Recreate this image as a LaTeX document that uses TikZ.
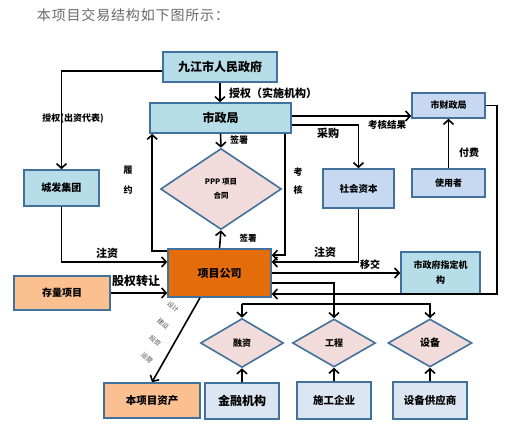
\documentclass[tikz,border=0pt]{standalone}
\usepackage{fontspec}
\setmainfont{Noto Sans CJK SC}
\usetikzlibrary{shapes.geometric,arrows.meta}
\definecolor{bluebg}{HTML}{B7DDE8}
\definecolor{bluebg2}{HTML}{C6D9F1}
\definecolor{bluebg3}{HTML}{DCE6F2}
\definecolor{orangebg}{HTML}{E46C0A}
\definecolor{peachbg}{HTML}{FAC090}
\definecolor{pinkbg}{HTML}{F2DCDB}
\definecolor{bord}{HTML}{41719C}
\definecolor{titlegray}{HTML}{6A6A6A}
\definecolor{smallgray}{HTML}{505050}
\newcommand{\fs}[1]{\fontsize{#1}{#1}\selectfont}
\tikzset{
  base/.style={draw=bord, line width=1.6pt, inner sep=0pt, align=center, font=\fs{10}\bfseries},
  boxA/.style={base, fill=bluebg},
  boxB/.style={base, fill=bluebg2},
  boxC/.style={base, fill=bluebg3},
  boxO/.style={base, fill=orangebg},
  boxP/.style={base, fill=peachbg},
  dia/.style={base, diamond, fill=pinkbg},
  arr/.style={draw=black, line width=1.6pt, -{Straight Barb[length=4.5pt,width=10pt,line width=1.6pt]}},
  lab/.style={inner sep=0pt, font=\fs{10}\bfseries},
  tiny/.style={inner sep=0pt, font=\fs{6.5}, text=smallgray, rotate=-42}
}
\begin{document}
\begin{tikzpicture}[x=1pt,y=-1pt]
\useasboundingbox (0,0) rectangle (512,427);
% title
\node[inner sep=0pt, text=titlegray, font=\fs{14}\addfontfeature{LetterSpace=6}] (title) at (133,15) {本项目交易结构如下图所示：};
% nodes
\node[boxA, minimum width=114, minimum height=30, font=\fs{12}\bfseries] (gov) at (220,67) {九江市人民政府};
\node[boxA, minimum width=141, minimum height=30, font=\fs{12}\bfseries] (szj) at (220.5,118) {市政局};
\node[boxA, minimum width=75, minimum height=36] (cf) at (61.5,188) {城发集团};
\node[dia, minimum width=121, minimum height=81, font=\fs{7.5}\bfseries, align=center] (ppp) at (221,189) {PPP 项目\\[6pt]合同};
\node[boxB, minimum width=71, minimum height=39, font=\fs{9.5}\bfseries] (sh) at (358.5,188.5) {社会资本};
\node[boxB, minimum width=73, minimum height=25, font=\fs{9}\bfseries] (cz) at (448.5,105.5) {市财政局};
\node[boxB, minimum width=73, minimum height=28, font=\fs{9}\bfseries] (syz) at (448.5,183) {使用者};
\node[boxO, minimum width=103, minimum height=48, font=\fs{11}\bfseries] (xm) at (219.5,273) {项目公司};
\node[boxP, minimum width=96, minimum height=34] (cl) at (62,293) {存量项目};
\node[boxA, minimum width=79, minimum height=42, font=\fs{9}\bfseries] (zd) at (440.5,273) {市政府指定机\\[6pt]构};
\node[boxP, minimum width=96, minimum height=35, font=\fs{10.5}\bfseries] (zc) at (152,400.5) {本项目资产};
\node[boxC, minimum width=74, minimum height=36, font=\fs{12}\bfseries] (jr) at (242,401) {金融机构};
\node[boxC, minimum width=74, minimum height=37, font=\fs{10.5}\bfseries] (sg) at (334,400.5) {施工企业};
\node[boxC, minimum width=74, minimum height=37, font=\fs{10.5}\bfseries] (sb) at (430,400.5) {设备供应商};
\node[dia, minimum width=83, minimum height=49, font=\fs{9}\bfseries] (rz) at (242,343) {融资};
\node[dia, minimum width=83, minimum height=48, font=\fs{9}\bfseries] (gc) at (334,343) {工程};
\node[dia, minimum width=84, minimum height=48, font=\fs{10}\bfseries] (sbd) at (430,343) {设备};
\coordinate (bus) at (242,304);
% connectors
\draw[arr] ([yshift=-4pt]gov.west) -| (cf.north);
\draw[arr] (gov.south) -- (gov.south |- szj.north);
\draw[arr] (szj.south) -- (ppp.north);
\draw[arr] (xm.north) -- (ppp.south);
\draw[arr] ([yshift=-3pt]xm.north west) -| ([xshift=3pt]szj.south west);
\draw[arr] ([xshift=-7pt]szj.south east) |- ([yshift=-7pt]xm.north east);
\draw[arr] ([yshift=2pt]szj.east) -- ([yshift=2pt]szj.east -| cz.west);
\draw[arr] ([yshift=-7pt]szj.east) -| (sh.north);
\draw[arr] (sh.south) |- ([yshift=11pt]xm.east);
\draw[arr] (syz.north) -- (cz.south);
\draw[arr] (cz.east) -- ++(11,0) |- ([yshift=-21pt]xm.east);
\draw[arr] (xm.east) -- (xm.east -| zd.west);
\draw[arr] ([yshift=-10pt]xm.east) -| (gc.north);
\draw[arr] (bus) -- (rz.north);
\draw[arr] (bus) -| (sbd.north);
\draw[arr] (cf.south) |- ([yshift=11pt]xm.west);
\draw[arr] (cl.east) -- (cl.east -| xm.west);
\draw[arr] ([xshift=-19.5pt]xm.south) -- (zc.north);
\draw[arr] (jr.north) -- (rz.south);
\draw[arr] (sg.north) -- (gc.south);
\draw[arr] (sb.north) -- (sbd.south);
% labels
\node[lab, font=\fs{9}\bfseries] (l1) at (73,119) {授权(出资代表)};
\node[lab, font=\fs{11}\bfseries] (l2) at (273,93) {授权（实施机构）};
\node[lab, font=\fs{9}\bfseries] (l3) at (239,140) {签署};
\node[lab, font=\fs{8.5}\bfseries] (l4) at (248,238) {签署};
\node[lab, font=\fs{9}\bfseries] (l5a) at (128,170) {履};
\node[lab, font=\fs{9}\bfseries] (l5b) at (128,190) {约};
\node[lab, font=\fs{9}\bfseries] (l6a) at (298,172) {考};
\node[lab, font=\fs{9}\bfseries] (l6b) at (298,190) {核};
\node[lab, font=\fs{9.5}\bfseries] (l7) at (387,125) {考核结果};
\node[lab, font=\fs{11}\bfseries] (l8) at (328,133) {采购};
\node[lab, font=\fs{11}\bfseries] (l9) at (325,252) {注资};
\node[lab, font=\fs{10}\bfseries] (l10) at (469,153) {付费};
\node[lab, font=\fs{10}\bfseries] (l11) at (370,265) {移交};
\node[lab, font=\fs{11}\bfseries] (l12) at (107,253) {注资};
\node[lab, font=\fs{12}\bfseries] (l13) at (136,281) {股权转让};
\node[tiny] (t1) at (173,307) {设计};
\node[tiny] (t2) at (163,324) {建设};
\node[tiny] (t3) at (155,341) {投资};
\node[tiny] (t4) at (147,358) {运营};
\end{tikzpicture}
\end{document}
